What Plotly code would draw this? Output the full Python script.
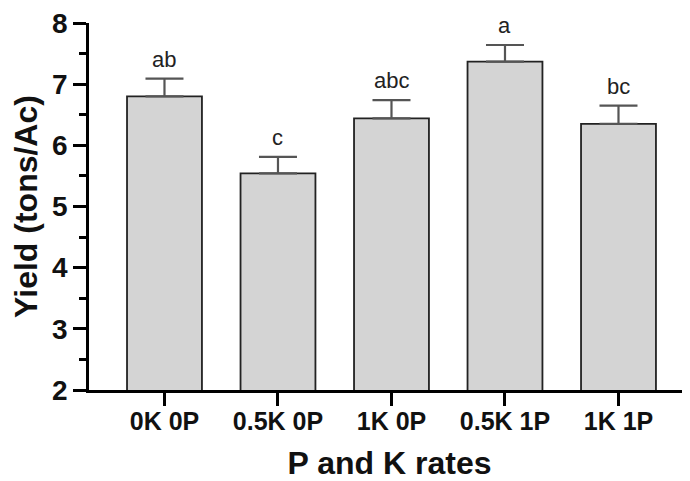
import plotly.graph_objects as go

categories = ["0K 0P", "0.5K 0P", "1K 0P", "0.5K 1P", "1K 1P"]
yield_means = [6.80, 5.54, 6.44, 7.37, 6.35]
yield_errors = [0.29, 0.27, 0.30, 0.27, 0.30]
letters = ["ab", "c", "abc", "a", "bc"]

FONT = "Liberation Sans, Arial, sans-serif"

fig = go.Figure()
fig.add_trace(go.Bar(
    x=list(range(len(categories))),
    y=yield_means,
    width=0.66,
    marker=dict(color="#d4d4d4", line=dict(color="#222222", width=1.8)),
    error_y=dict(type="data", symmetric=False, array=yield_errors,
                 arrayminus=[0] * len(yield_errors),
                 color="#555555", thickness=2.2, width=19),
    showlegend=False,
))

for i, (v, e, t) in enumerate(zip(yield_means, yield_errors, letters)):
    fig.add_annotation(x=i, y=v + e, text=t, showarrow=False,
                       yanchor="bottom", yshift=5,
                       font=dict(family=FONT, size=22, color="#222222"))

# page body has an 8px margin, so the figure is sized/offset to compensate
fig.update_layout(
    width=682, height=473,
    margin=dict(l=81, r=0, t=12, b=91),
    plot_bgcolor="white", paper_bgcolor="white",
)
fig.update_xaxes(
    range=[-0.665, 4.63],
    tickmode="array", tickvals=list(range(len(categories))), ticktext=categories,
    showline=True, linecolor="black", linewidth=2.5,
    ticks="outside", ticklen=13, tickwidth=2.5, tickcolor="black",
    ticklabelstandoff=-6,
    tickfont=dict(family=FONT, size=25, color="#111111", weight="bold"),
    title=dict(text="P and K rates", standoff=18,
               font=dict(family=FONT, size=32, color="#111111", weight="bold")),
    showgrid=False, zeroline=False,
)
fig.update_yaxes(
    range=[2, 8], dtick=1,
    showline=True, linecolor="black", linewidth=2.5,
    ticks="outside", ticklen=13, tickwidth=2.5, tickcolor="black",
    ticklabeloverflow="allow",
    minor=dict(dtick=0.5, ticks="outside", ticklen=7, tickwidth=2.5, tickcolor="black"),
    tickfont=dict(family=FONT, size=28, color="#111111", weight="bold"),
    title=dict(text="Yield (tons/Ac)", standoff=8,
               font=dict(family=FONT, size=32, color="#111111", weight="bold")),
    showgrid=False, zeroline=False,
)

fig.write_html("out.html")
